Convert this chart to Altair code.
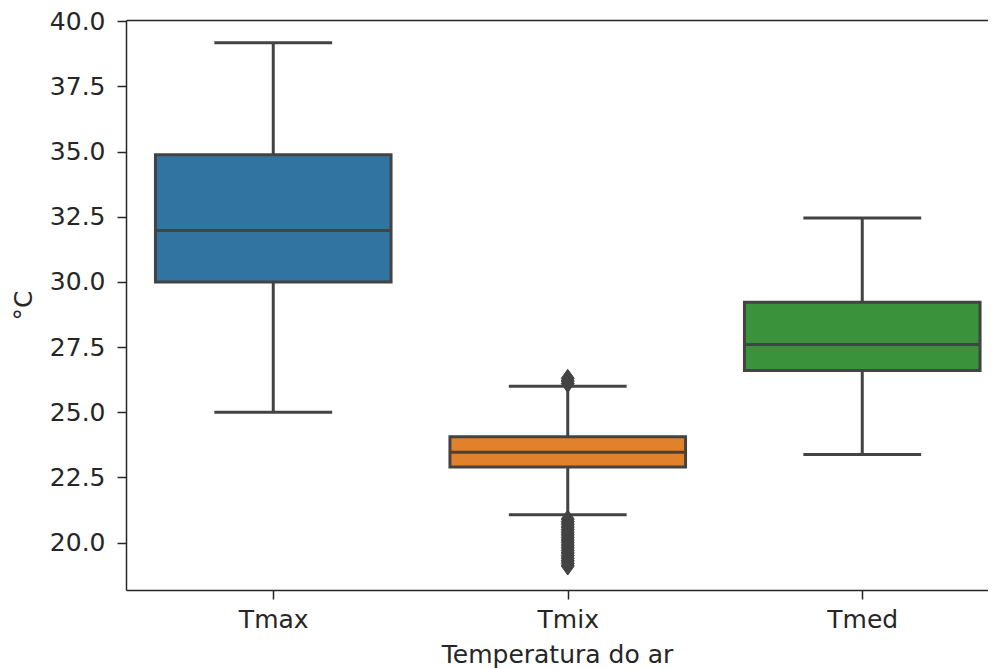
import altair as alt
import pandas as pd

categories = ["Tmax", "Tmix", "Tmed"]
positions = [0, 1, 2]
whisker_low = [25.0, 21.07, 23.38]
q1 = [30.0, 22.9, 26.6]
median = [31.97, 23.47, 27.6]
q3 = [34.88, 24.06, 29.22]
whisker_high = [39.18, 26.0, 32.45]
colors = ["#3274a1", "#e1812c", "#3a923a"]

tmix_outliers = [26.1, 26.2, 26.3,
                 20.9, 20.8, 20.7, 20.6, 20.5, 20.4, 20.3, 20.2, 20.1, 20.0,
                 19.9, 19.8, 19.7, 19.6, 19.5, 19.4, 19.3, 19.2, 19.1]

stats = pd.DataFrame({
    "cat": categories, "pos": positions, "lo": whisker_low, "q1": q1,
    "med": median, "q3": q3, "hi": whisker_high,
})
outl = pd.DataFrame({"pos": [1] * len(tmix_outliers), "val": tmix_outliers})

LINE = "#434343"
TXT = "#262626"
FONT = "DejaVu Sans"
FS = 25

xscale = alt.Scale(domain=[-0.5, 2.427], nice=False, zero=False)
yscale = alt.Scale(domain=[18.18, 40.05], nice=False, zero=False)

xaxis = alt.Axis(values=positions, labelExpr="['Tmax','Tmix','Tmed'][datum.value]",
                 grid=False, title="Temperatura do ar", tickSize=9, tickWidth=1.5,
                 tickColor=TXT, domainColor=TXT, domainWidth=1.5,
                 labelFont=FONT, labelFontSize=FS, labelColor=TXT, labelPadding=8,
                 titleFont=FONT, titleFontSize=FS, titleColor=TXT, titleFontWeight="normal",
                 titlePadding=10)
yaxis = alt.Axis(values=[20.0, 22.5, 25.0, 27.5, 30.0, 32.5, 35.0, 37.5, 40.0], format=".1f",
                 grid=False, title="°C", tickSize=9, tickWidth=1.5,
                 tickColor=TXT, domainColor=TXT, domainWidth=1.5,
                 labelFont=FONT, labelFontSize=FS, labelColor=TXT, labelPadding=12,
                 titleFont=FONT, titleFontSize=FS, titleColor=TXT, titleFontWeight="normal",
                 titlePadding=13)
topaxis = alt.Axis(orient="top", labels=False, ticks=False, grid=False, title=None,
                   domainColor=TXT, domainWidth=1.5)

base = alt.Chart(stats).transform_calculate(
    left="datum.pos - 0.4", right="datum.pos + 0.4",
    cl="datum.pos - 0.2", cr="datum.pos + 0.2",
)

whisk_lo = base.mark_rule(color=LINE, strokeWidth=3).encode(
    x=alt.X("pos:Q", scale=xscale, axis=xaxis),
    y=alt.Y("lo:Q", scale=yscale, axis=yaxis), y2="q1:Q")
whisk_hi = base.mark_rule(color=LINE, strokeWidth=3).encode(
    x="pos:Q", y="q3:Q", y2="hi:Q")
cap_lo = base.mark_rule(color=LINE, strokeWidth=3).encode(
    x="cl:Q", x2="cr:Q", y="lo:Q")
cap_hi = base.mark_rule(color=LINE, strokeWidth=3).encode(
    x="cl:Q", x2="cr:Q", y="hi:Q")
box = base.mark_rect(stroke=LINE, strokeWidth=3).encode(
    x="left:Q", x2="right:Q", y="q1:Q", y2="q3:Q",
    fill=alt.Fill("cat:N", scale=alt.Scale(domain=categories, range=colors), legend=None))
med = base.mark_rule(color=LINE, strokeWidth=3).encode(
    x="left:Q", x2="right:Q", y="med:Q")
pts = alt.Chart(outl).mark_point(
    shape="M0,-1L0.72,0L0,1L-0.72,0Z", filled=True, color=LINE, opacity=1, size=324,
    stroke=LINE, strokeWidth=1).encode(
    x=alt.X("pos:Q", scale=xscale, axis=topaxis), y="val:Q")

main = alt.layer(whisk_lo, whisk_hi, cap_lo, cap_hi, box, med)

chart = alt.layer(main, pts).resolve_axis(x="independent").properties(
    width=862, height=570,
    autosize=alt.AutoSizeParams(type="none"),
    padding={"left": 118, "top": 12, "right": 0, "bottom": 79},
).configure_view(stroke=None)

chart.save("out.html", embed_options={"renderer": "svg", "actions": False})
